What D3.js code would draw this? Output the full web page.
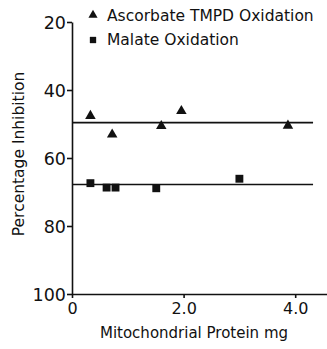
<!DOCTYPE html>
<html lang="en">
<head>
<meta charset="UTF-8">
<title>Percentage Inhibition</title>
<style>
  body { margin: 0; background: #fff; }
  text { font-family: "DejaVu Sans", sans-serif; fill: #111; }
</style>
</head>
<body>
<svg width="327" height="349" id="svg"></svg>
<script src="https://d3js.org/d3.v7.min.js"></script>
<script>
// data
const ascorbateX = [0.33, 0.72, 1.6, 1.96, 3.87]
const ascorbateY = [47.6, 53.1, 50.6, 46.2, 50.5]
const malateX = [0.33, 0.62, 0.78, 1.51, 3.0]
const malateY = [67.4, 68.7, 68.7, 68.9, 66.1]
const fitLevels = [49.6, 67.8]
const fitRange = [0, 4.32]
const xTicks = [0, 2, 4]
const yTicks = [20, 40, 60, 80, 100]
const seriesNames = ["Ascorbate TMPD Oxidation", "Malate Oxidation"]

const svg = d3.select("svg#svg")
const xScale = d3.scaleLinear().domain([0, 4.57]).range([72, 327])
const yScale = d3.scaleLinear().domain([20, 100]).range([22, 294])

// y axis
const yAxis = d3.axisLeft(yScale).tickValues(yTicks).tickSize(5).tickSizeOuter(0).tickPadding(1)
svg.append("g").attr("transform", `translate(${xScale(0)},0)`).call(yAxis)
  .call(g => g.selectAll("text").style("font-size", "17.5px").attr("dy", "0.36em"))

// x axis
const xAxis = d3.axisBottom(xScale).tickValues(xTicks).tickSize(4).tickSizeOuter(0).tickPadding(5)
  .tickFormat(d => d === 0 ? "0" : d.toFixed(1))
svg.append("g").attr("transform", `translate(0,${yScale(100)})`).call(xAxis)
  .call(g => g.selectAll("text").style("font-size", "16px"))

svg.selectAll(".domain, .tick line").attr("stroke", "#111").attr("stroke-width", 1.6)

// fitted lines
svg.selectAll("line.fit").data(fitLevels).join("line").attr("class", "fit")
  .attr("x1", xScale(fitRange[0])).attr("x2", xScale(fitRange[1]))
  .attr("y1", d => yScale(d)).attr("y2", d => yScale(d))
  .attr("stroke", "#111").attr("stroke-width", 1.6)

const tri = d3.symbol().type(d3.symbolTriangle).size(48)
const sq = d3.symbol().type(d3.symbolSquare).size(62)

svg.selectAll("path.tri").data(ascorbateX).join("path").attr("class", "tri")
  .attr("d", tri).attr("fill", "#111")
  .attr("transform", (d, i) => `translate(${xScale(d)},${yScale(ascorbateY[i])})`)

svg.selectAll("path.sq").data(malateX).join("path").attr("class", "sq")
  .attr("d", sq).attr("fill", "#111")
  .attr("transform", (d, i) => `translate(${xScale(d)},${yScale(malateY[i])})`)

// legend
const legend = svg.append("g")
legend.append("path").attr("d", d3.symbol().type(d3.symbolTriangle).size(36)).attr("fill", "#111")
  .attr("transform", "translate(93,15)")
legend.append("path").attr("d", d3.symbol().type(d3.symbolSquare).size(40)).attr("fill", "#111")
  .attr("transform", "translate(93,40)")
legend.selectAll("text").data(seriesNames).join("text")
  .attr("x", 107).attr("y", (d, i) => 21 + i * 24)
  .style("font-size", "15.5px").text(d => d)

// axis titles
svg.append("text").attr("transform", "translate(24,154) rotate(-90)")
  .attr("text-anchor", "middle").style("font-size", "15.5px").text("Percentage Inhibition")
svg.append("text").attr("x", 194).attr("y", 338)
  .attr("text-anchor", "middle").style("font-size", "15px").text("Mitochondrial Protein mg")
</script>
</body>
</html>
